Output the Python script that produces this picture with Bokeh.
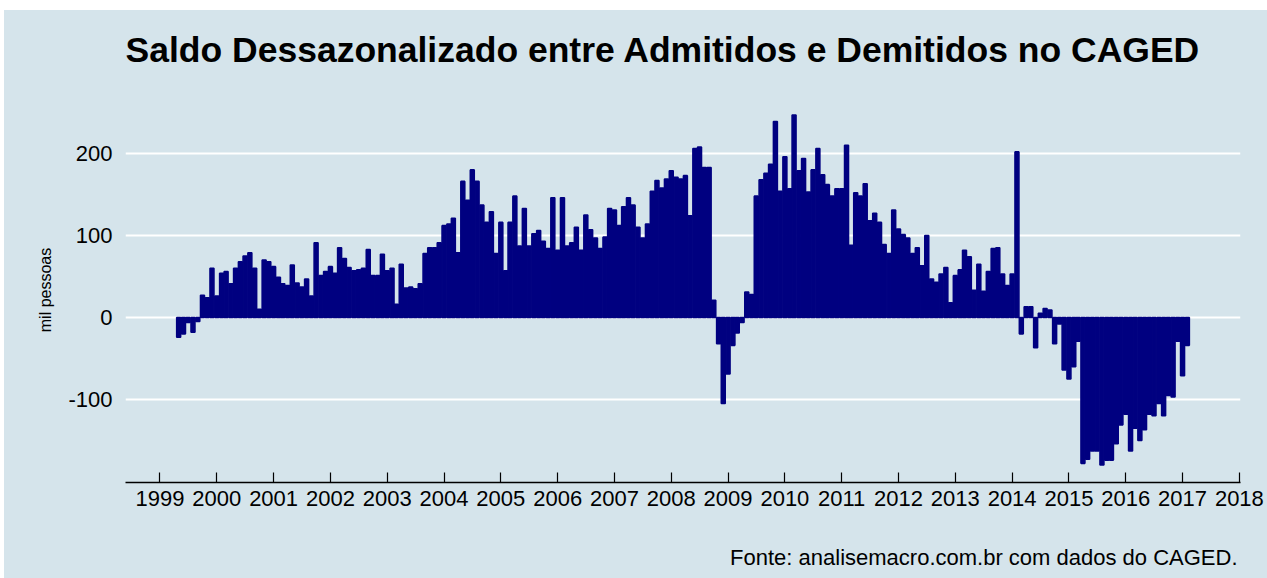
import datetime as dt
from bokeh.plotting import figure
from bokeh.layouts import column, row
from bokeh.models import ColumnDataSource, Range1d, FixedTicker, Spacer
from bokeh.core.properties import value
from bokeh.embed import file_html
from bokeh.resources import INLINE

title_text = "Saldo Dessazonalizado entre Admitidos e Demitidos no CAGED"
caption_text = "Fonte: analisemacro.com.br com dados do CAGED."
y_label = "mil pessoas"

start_year, start_month = 1999, 5  # first month of the series
saldo = [
    -24, -20, -6, -18, -5, 27, 24, 60,                                  # 1999 (May-Dec)
    26, 54, 56, 41, 60, 68, 75, 79, 60, 10, 70, 68,                     # 2000
    62, 49, 41, 39, 64, 42, 37, 47, 26, 91, 51, 56,                     # 2001
    62, 54, 85, 72, 61, 57, 58, 60, 83, 51, 51, 77,                     # 2002
    57, 60, 16, 65, 36, 37, 35, 41, 78, 85, 85, 91,                     # 2003
    112, 114, 121, 79, 166, 143, 180, 166, 137, 116, 129, 78,           # 2004
    116, 57, 116, 148, 87, 133, 87, 102, 106, 93, 84, 146,              # 2005
    82, 146, 87, 91, 110, 82, 125, 107, 97, 84, 98, 133,                # 2006
    131, 112, 135, 146, 137, 110, 97, 114, 154, 167, 158, 169,          # 2007
    179, 171, 169, 173, 124, 206, 208, 183, 183, 21, -32, -105,         # 2008
    -69, -34, -19, -6, 31, 28, 148, 168, 176, 187, 239, 154,            # 2009
    196, 157, 247, 179, 194, 153, 180, 206, 174, 162, 148, 157,         # 2010
    157, 210, 88, 152, 148, 163, 118, 127, 116, 89, 78, 131,            # 2011
    108, 101, 97, 78, 85, 63, 100, 47, 43, 53, 61, 18,                  # 2012
    51, 58, 82, 74, 33, 65, 32, 56, 84, 85, 53, 39,                     # 2013
    53, 202, -20, 13, 13, -37, 5, 11, 9, -32, -8, -64,                  # 2014
    -75, -60, -29, -178, -173, -163, -163, -180, -174, -174, -154, -131,  # 2015
    -118, -163, -135, -150, -137, -118, -120, -105, -120, -95, -97, -29,  # 2016
    -71, -34,                                                           # 2017 (Jan-Feb)
]
year_ticks = list(range(1999, 2019))
y_ticks = [-100, 0, 100, 200]


def decimal_year(d):
    start = dt.date(d.year, 1, 1)
    days = (dt.date(d.year + 1, 1, 1) - start).days
    return d.year + (d - start).days / days


dates = []
for i in range(len(saldo)):
    k = start_month - 1 + i
    dates.append(dt.date(start_year + k // 12, k % 12 + 1, 1))
xs = [decimal_year(d) for d in dates]

source = ColumnDataSource(dict(x=xs, saldo=saldo))

BG = "#d5e4eb"
BAR = "#000080"
FONT = "Liberation Sans"

# page layout (pixels)
PAGE_W, PAGE_H = 1267, 578
OX, OY = 4, 10                      # white strip left / top
FR_L, FR_R, FR_T, FR_B = 125, 1240, 97, 482
HEAD_H = 77                         # header band (title)
FOOT_H = 48                         # footer band (caption)
W = PAGE_W - OX
MAIN_TOP = FR_T - OY - HEAD_H       # border above frame in main figure
MAIN_BOT = PAGE_H - FOOT_H - FR_B   # border below frame in main figure
MAIN_H = MAIN_TOP + (FR_B - FR_T) + MAIN_BOT

X0, X1 = 1998.393, 2018.02
Y0, Y1 = -201.35, 268.35


def text_band(page_top, height):
    # data units equal page pixels inside this band
    f = figure(width=W, height=height,
               x_range=Range1d(FR_L, FR_R),
               y_range=Range1d(page_top + height, page_top),
               x_axis_type=None, y_axis_type=None,
               min_border_left=FR_L - OX, min_border_right=PAGE_W - FR_R,
               min_border_top=0, min_border_bottom=0,
               output_backend="svg", toolbar_location=None)
    f.background_fill_color = BG
    f.border_fill_color = BG
    f.outline_line_color = None
    f.xgrid.grid_line_color = None
    f.ygrid.grid_line_color = None
    return f


# header with title
head = text_band(OY, HEAD_H)
head.text(x=[FR_L], y=[49], text=[title_text],
          text_font=value(FONT), text_font_size=value("35.5px"),
          text_font_style="bold", text_color="black",
          text_align="left", text_baseline="middle")

# main chart
p = figure(width=W, height=MAIN_H,
           x_range=Range1d(X0, X1), y_range=Range1d(Y0, Y1),
           output_backend="svg", toolbar_location=None,
           min_border_left=FR_L - OX, min_border_right=PAGE_W - FR_R,
           min_border_top=MAIN_TOP, min_border_bottom=MAIN_BOT)
p.background_fill_color = BG
p.border_fill_color = BG
p.outline_line_color = None

bar_width = 0.9 * 28 / 365.25
p.vbar(x="x", top="saldo", bottom=0, width=bar_width, source=source,
       fill_color=BAR, line_color=BAR, line_width=1.6)

xa = p.xaxis[0]
xa.ticker = FixedTicker(ticks=year_ticks)
xa.major_label_overrides = {y: str(y) for y in year_ticks}
xa.axis_line_color = "black"
xa.axis_line_width = 1.3
xa.major_tick_in = 10
xa.major_tick_out = 0
xa.major_tick_line_color = "black"
xa.major_tick_line_width = 1.2
xa.minor_tick_line_color = None
xa.major_label_text_font = FONT
xa.major_label_text_font_size = "22px"
xa.major_label_text_color = "black"
xa.major_label_standoff = 8

ya = p.yaxis[0]
ya.ticker = FixedTicker(ticks=y_ticks)
ya.major_label_overrides = {t: str(t) for t in y_ticks}
ya.axis_line_color = None
ya.major_tick_line_color = None
ya.minor_tick_line_color = None
ya.major_label_text_font = FONT
ya.major_label_text_font_size = "22px"
ya.major_label_text_color = "black"
ya.major_label_standoff = 7
ya.axis_label = y_label
ya.axis_label_text_font = FONT
ya.axis_label_text_font_size = "16px"
ya.axis_label_text_font_style = "normal"
ya.axis_label_text_color = "black"
ya.axis_label_standoff = 11

p.xgrid.grid_line_color = None
p.ygrid.grid_line_color = "white"
p.ygrid.grid_line_width = 2.2

# footer with caption
foot = text_band(PAGE_H - FOOT_H, FOOT_H)
foot.text(x=[1237], y=[557], text=[caption_text],
          text_font=value(FONT), text_font_size=value("22px"),
          text_color="black", text_align="right", text_baseline="middle")

panel = column(head, p, foot, styles={"background-color": BG})
layout = column(Spacer(width=PAGE_W, height=OY),
                row(Spacer(width=OX, height=PAGE_H - OY), panel))

open("out.html", "w").write(file_html(layout, INLINE))
